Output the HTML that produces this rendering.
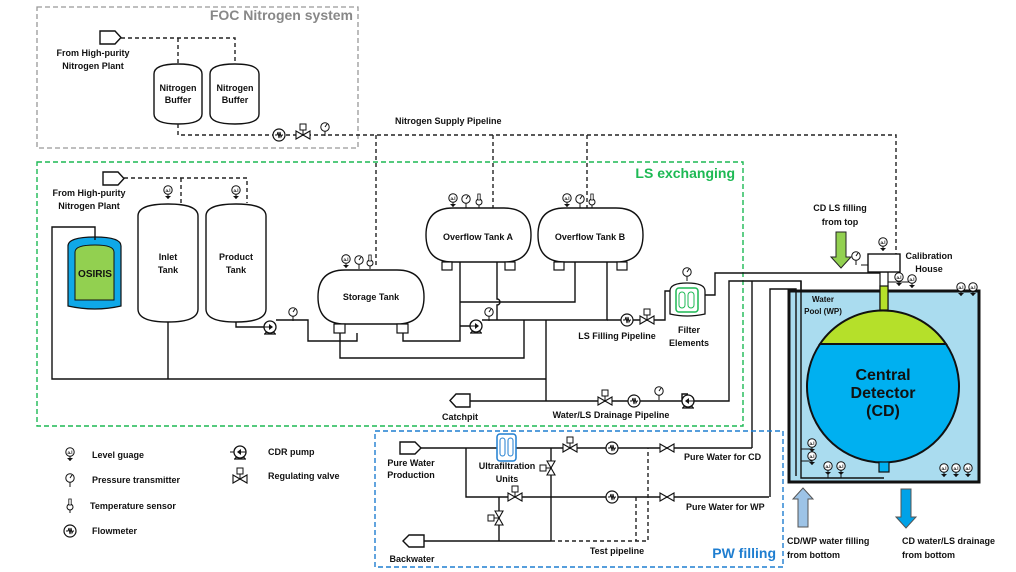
<!DOCTYPE html>
<html><head><meta charset="utf-8"><style>
html,body{margin:0;padding:0;background:#fff;}
svg{display:block;font-family:"Liberation Sans",sans-serif;}
.t{font-size:9px;font-weight:bold;fill:#111;}
.ln{stroke:#111;stroke-width:1.4;fill:none;}
.dl{stroke:#222;stroke-width:1.4;fill:none;stroke-dasharray:4,3;}
</style></head><body>
<svg width="1016" height="572" viewBox="0 0 1016 572" xmlns="http://www.w3.org/2000/svg">
<defs>
<g id="lg"><line x1="0" y1="4" x2="0" y2="9" stroke="#111" stroke-width="1"/><path d="M-3,6 L3,6 L0,9Z" fill="#111"/><circle cx="0" cy="0" r="4.2" fill="#fff" stroke="#111" stroke-width="1"/><text x="0" y="1.8" font-size="4.5" text-anchor="middle" font-weight="bold">a.l</text></g>
<g id="pg"><line x1="0" y1="4" x2="0" y2="9" stroke="#111" stroke-width="1"/><circle cx="0" cy="0" r="4.2" fill="#fff" stroke="#111" stroke-width="1"/><line x1="0" y1="0" x2="2" y2="-3" stroke="#111" stroke-width="1"/></g>
<g id="ts"><line x1="0" y1="4" x2="0" y2="8" stroke="#111" stroke-width="1"/><circle cx="0" cy="2" r="3" fill="#fff" stroke="#111" stroke-width="1"/><rect x="-1.2" y="-6" width="2.4" height="6" fill="#fff" stroke="#111" stroke-width="0.8"/></g>
<g id="fm"><circle cx="0" cy="0" r="6" fill="#fff" stroke="#111" stroke-width="1.2"/><path d="M-4,0 L-2,0 L-1,-3 L0,3 L1,-3 L2,2 L3,0 L4,0" stroke="#111" stroke-width="1" fill="none"/></g>
<g id="rv"><path d="M-7,-4 L7,4 L7,-4 L-7,4Z" fill="#fff" stroke="#111" stroke-width="1.1"/><line x1="0" y1="0" x2="0" y2="-5" stroke="#111"/><rect x="-3" y="-11" width="6" height="6" fill="#fff" stroke="#111" stroke-width="1"/></g>
<g id="gv"><path d="M-7,-4 L7,4 L7,-4 L-7,4Z" fill="#fff" stroke="#111" stroke-width="1.1"/></g>
<g id="vv"><path d="M-4,-7 L4,7 L-4,7 L4,-7Z" fill="#fff" stroke="#111" stroke-width="1.1"/><line x1="0" y1="0" x2="-5" y2="0" stroke="#111"/><rect x="-11" y="-3" width="6" height="6" fill="#fff" stroke="#111" stroke-width="1"/></g>
<g id="pump"><path d="M-5,7 L-3,4 M5,7 L3,4 M-6,7 L6,7" stroke="#111" stroke-width="1.2" fill="none"/><circle cx="0" cy="0" r="6" fill="#fff" stroke="#111" stroke-width="1.3"/><path d="M-1,-3 L3,0 L-1,3Z" fill="#111"/><line x1="-6" y1="0" x2="-1" y2="0" stroke="#111"/></g>
<g id="pumpL"><path d="M-5,7 L-3,4 M5,7 L3,4 M-6,7 L6,7" stroke="#111" stroke-width="1.2" fill="none"/><circle cx="0" cy="0" r="6" fill="#fff" stroke="#111" stroke-width="1.3"/><path d="M1,-3 L-3,0 L1,3Z" fill="#111"/><line x1="6" y1="0" x2="1" y2="0" stroke="#111"/></g>
</defs>

<!-- FOC box -->
<rect x="37" y="7" width="321" height="141" fill="none" stroke="#999" stroke-width="1.3" stroke-dasharray="5,3"/>
<text x="353" y="20" font-size="14" font-weight="bold" fill="#888" text-anchor="end">FOC Nitrogen system</text>
<path d="M100,31 L115,31 L121,37.5 L115,44 L100,44Z" fill="#fff" stroke="#111" stroke-width="1.4"/>
<text class="t" x="93" y="56" text-anchor="middle">From High-purity</text>
<text class="t" x="93" y="69" text-anchor="middle">Nitrogen Plant</text>
<path class="dl" d="M121,38 H235 V64 M178,38 V64"/>
<path d="M154,74 Q154,64 178,64 Q202,64 202,74 V114 Q202,124 178,124 Q154,124 154,114Z" fill="#fff" stroke="#111" stroke-width="1.4"/>
<path d="M210,74 Q210,64 235,64 Q259,64 259,74 V114 Q259,124 235,124 Q210,124 210,114Z" fill="#fff" stroke="#111" stroke-width="1.4"/>
<text class="t" x="178" y="91" text-anchor="middle">Nitrogen</text><text class="t" x="178" y="103" text-anchor="middle">Buffer</text>
<text class="t" x="235" y="91" text-anchor="middle">Nitrogen</text><text class="t" x="235" y="103" text-anchor="middle">Buffer</text>
<path class="dl" d="M178,124 V135 H896 V255 M376,135 V268 M493,135 V208 M587,135 V208"/>
<use href="#fm" x="279" y="135"/><use href="#rv" x="303" y="135"/><use href="#pg" x="325" y="127"/>
<text class="t" x="395" y="124">Nitrogen Supply Pipeline</text>

<!-- LS box -->
<rect x="37" y="162" width="706" height="264" fill="none" stroke="#1db954" stroke-width="1.4" stroke-dasharray="5,3"/>
<text x="735" y="178" font-size="14" font-weight="bold" fill="#1db954" text-anchor="end">LS exchanging</text>
<path d="M103,172 L118,172 L124,178.5 L118,185 L103,185Z" fill="#fff" stroke="#111" stroke-width="1.4"/>
<text class="t" x="89" y="196" text-anchor="middle">From High-purity</text>
<text class="t" x="89" y="209" text-anchor="middle">Nitrogen Plant</text>
<path class="dl" d="M124,178 H247 V203 M181,178 V203"/>
<use href="#lg" x="168" y="190"/><use href="#lg" x="236" y="190"/>
<path d="M138,216 Q138,204 168,204 Q198,204 198,216 V309 Q198,322 168,322 Q138,322 138,309Z" fill="#fff" stroke="#111" stroke-width="1.4"/>
<path d="M206,216 Q206,204 236,204 Q266,204 266,216 V309 Q266,322 236,322 Q206,322 206,309Z" fill="#fff" stroke="#111" stroke-width="1.4"/>
<text class="t" x="168" y="260" text-anchor="middle">Inlet</text><text class="t" x="168" y="273" text-anchor="middle">Tank</text>
<text class="t" x="236" y="260" text-anchor="middle">Product</text><text class="t" x="236" y="273" text-anchor="middle">Tank</text>
<!-- OSIRIS -->
<path d="M68,246 Q68,237 95,237 Q121,237 121,246 V306 Q95,312 68,306Z" fill="#0fa8e8" stroke="#111" stroke-width="1.2"/>
<path d="M75,252 Q75,245 95,245 Q114,245 114,252 V300 H75Z" fill="#92d050" stroke="#111" stroke-width="1"/>
<text x="95" y="277" font-size="10" font-weight="bold" text-anchor="middle" fill="#111">OSIRIS</text>
<path class="ln" d="M95,240 V227 H52 V379 H546 M168,322 V379"/>
<!-- storage -->
<path d="M345,270 H397 Q424,270 424,297 Q424,324 397,324 H345 Q318,324 318,297 Q318,270 345,270Z" fill="#fff" stroke="#111" stroke-width="1.4"/>
<text class="t" x="371" y="300" text-anchor="middle">Storage Tank</text>
<rect x="334" y="324" width="11" height="9" fill="#fff" stroke="#111" stroke-width="1.2"/>
<rect x="397" y="324" width="11" height="9" fill="#fff" stroke="#111" stroke-width="1.2"/>
<use href="#lg" x="346" y="259"/><use href="#pg" x="359" y="260"/><use href="#ts" x="370" y="261"/>
<!-- overflow A,B -->
<path d="M453,208 H504 Q531,208 531,235 Q531,262 504,262 H453 Q426,262 426,235 Q426,208 453,208Z" fill="#fff" stroke="#111" stroke-width="1.4"/>
<path d="M565,208 H616 Q643,208 643,235 Q643,262 616,262 H565 Q538,262 538,235 Q538,208 565,208Z" fill="#fff" stroke="#111" stroke-width="1.4"/>
<text class="t" x="478" y="240" text-anchor="middle">Overflow Tank A</text>
<text class="t" x="590" y="240" text-anchor="middle">Overflow Tank B</text>
<rect x="442" y="262" width="10" height="8" fill="#fff" stroke="#111" stroke-width="1.2"/>
<rect x="505" y="262" width="10" height="8" fill="#fff" stroke="#111" stroke-width="1.2"/>
<rect x="554" y="262" width="10" height="8" fill="#fff" stroke="#111" stroke-width="1.2"/>
<rect x="617" y="262" width="10" height="8" fill="#fff" stroke="#111" stroke-width="1.2"/>
<use href="#lg" x="453" y="198"/><use href="#pg" x="466" y="199"/><use href="#ts" x="479" y="200"/>
<use href="#lg" x="567" y="198"/><use href="#pg" x="580" y="199"/><use href="#ts" x="592" y="200"/>
<!-- LS pipes -->
<path class="ln" d="M236,322 V327 H264 M276,320 H308 V341 H357 V333 M340,333 V358 H524 V320 M403,333 V341 H460 V262 M460,302 H575 V262 M460,326 H470 M482,320 H607 V262 M497,262 V299 A3,3 0 0 1 497,305 V320 M546,320 V401"/>
<use href="#pump" x="270" y="327"/><use href="#pg" x="293" y="312"/>
<use href="#pump" x="476" y="326"/><use href="#pg" x="489" y="312"/>
<path class="ln" d="M607,320 H665 V291 H670"/>
<use href="#fm" x="627" y="320"/><use href="#rv" x="647" y="320"/>
<text class="t" x="617" y="339" text-anchor="middle">LS Filling Pipeline</text>
<path d="M670,291 Q670,283 687,283 Q705,283 705,291 V314 Q687,318 670,314Z" fill="#fff" stroke="#111" stroke-width="1.3"/>
<rect x="676" y="288" width="22" height="24" rx="3" fill="#fff" stroke="#1db954" stroke-width="1.5"/>
<rect x="679" y="292" width="6" height="16" rx="3" fill="none" stroke="#1db954" stroke-width="1"/>
<rect x="688" y="292" width="6" height="16" rx="3" fill="none" stroke="#1db954" stroke-width="1"/>
<use href="#pg" x="687" y="272"/>
<text class="t" x="689" y="333" text-anchor="middle">Filter</text><text class="t" x="689" y="346" text-anchor="middle">Elements</text>
<path class="ln" d="M705,295 H715 V273 H880"/>
<!-- drainage -->
<path d="M470,394 L456,394 L450,400.5 L456,407 L470,407Z" fill="#fff" stroke="#111" stroke-width="1.4"/>
<text class="t" x="460" y="420" text-anchor="middle">Catchpit</text>
<path class="ln" d="M470,401 H682 M694,401 H729 V281 H801 V478 H884 M752,281 V448"/>
<path class="ln" d="M682,401 V394 H688"/>
<use href="#rv" x="605" y="401"/><use href="#fm" x="634" y="401"/><use href="#pg" x="659" y="391"/>
<use href="#pumpL" x="688" y="401"/>
<text class="t" x="611" y="418" text-anchor="middle">Water/LS Drainage Pipeline</text>

<!-- Pool -->
<rect x="789" y="291" width="190" height="191" fill="#aadcef" stroke="#111" stroke-width="3"/>
<path class="ln" d="M770,497 V289 H796 V476"/>
<path class="ln" d="M801,281 V478 H884"/>
<path d="M812,449 H801 M812,461 H801" stroke="#111" stroke-width="1"/>
<path d="M828,473 V478 M841,473 V478" stroke="#111" stroke-width="1"/>
<!-- CD -->
<path d="M820,344 A76,76 0 1 0 946,344Z" fill="#00b0f0" stroke="#111" stroke-width="2"/>
<path d="M820,344 A76,76 0 0 1 946,344Z" fill="#b5e02a" stroke="#111" stroke-width="2"/>
<rect x="880" y="272" width="8" height="38" fill="#fff" stroke="#111" stroke-width="1.2"/>
<rect x="880" y="286" width="8" height="24" fill="#b5e02a" stroke="#111" stroke-width="1.2"/>
<rect x="879" y="462" width="10" height="10" fill="#00b0f0" stroke="#111" stroke-width="1.2"/>
<text x="883" y="380" font-size="16" font-weight="bold" text-anchor="middle" fill="#111">Central</text>
<text x="883" y="398" font-size="16" font-weight="bold" text-anchor="middle" fill="#111">Detector</text>
<text x="883" y="416" font-size="16" font-weight="bold" text-anchor="middle" fill="#111">(CD)</text>
<text x="823" y="302" font-size="8" font-weight="bold" text-anchor="middle" fill="#111">Water</text>
<text x="823" y="314" font-size="8" font-weight="bold" text-anchor="middle" fill="#111">Pool (WP)</text>
<use href="#lg" x="961" y="287"/><use href="#lg" x="973" y="287"/>
<use href="#lg" x="944" y="468"/><use href="#lg" x="956" y="468"/><use href="#lg" x="968" y="468"/>
<use href="#lg" x="828" y="466"/><use href="#lg" x="841" y="466"/>
<use href="#lg" x="812" y="443"/><use href="#lg" x="812" y="456"/>
<!-- calibration house -->
<rect x="868" y="254" width="32" height="18" fill="#fff" stroke="#111" stroke-width="1.4"/>
<use href="#lg" x="883" y="242"/>
<path class="ln" d="M868,265 H861" style="stroke-width:1"/><use href="#pg" x="856" y="256"/>
<path d="M888,282 H912" stroke="#111" stroke-width="1"/>
<use href="#lg" x="899" y="277"/><use href="#lg" x="912" y="279"/>
<text class="t" x="929" y="259" text-anchor="middle">Calibration</text>
<text class="t" x="929" y="272" text-anchor="middle">House</text>
<path d="M836,232 H846 V257 H851 L841,268 L831,257 H836Z" fill="#92d050" stroke="#222" stroke-width="1"/>
<text class="t" x="840" y="211" text-anchor="middle">CD LS filling</text>
<text class="t" x="840" y="225" text-anchor="middle">from top</text>
<!-- bottom arrows -->
<path d="M798,527 H808 V499 H813 L803,488 L793,499 H798Z" fill="#9dc3e6" stroke="#555" stroke-width="1"/>
<path d="M901,489 H911 V517 H916 L906,528 L896,517 H901Z" fill="#00a2e8" stroke="#555" stroke-width="1"/>
<text class="t" x="787" y="544">CD/WP water filling</text>
<text class="t" x="787" y="558">from bottom</text>
<text class="t" x="902" y="544">CD water/LS drainage</text>
<text class="t" x="902" y="558">from bottom</text>

<!-- PW box -->
<rect x="375" y="431" width="408" height="136" fill="none" stroke="#1f7ed0" stroke-width="1.4" stroke-dasharray="5,3"/>
<text x="776" y="558" font-size="14" font-weight="bold" fill="#1f7ed0" text-anchor="end">PW filling</text>
<path d="M400,442 L415,442 L421,448 L415,454 L400,454Z" fill="#fff" stroke="#111" stroke-width="1.4"/>
<text class="t" x="411" y="466" text-anchor="middle">Pure Water</text>
<text class="t" x="411" y="478" text-anchor="middle">Production</text>
<path d="M424,535 L409,535 L403,541 L409,547 L424,547Z" fill="#fff" stroke="#111" stroke-width="1.4"/>
<text class="t" x="412" y="562" text-anchor="middle">Backwater</text>
<path class="ln" d="M421,448 H752 M466,448 V497 H769 M551,448 V541 M499,497 V541 M424,541 H551"/>
<path class="dl" d="M551,541 H648 V448 M636,497 V541"/>
<rect x="497" y="434" width="19" height="27" rx="3" fill="#fff" stroke="#1f7ed0" stroke-width="1.5"/>
<rect x="500" y="438" width="5" height="18" rx="2.5" fill="none" stroke="#1f7ed0" stroke-width="1"/>
<rect x="508" y="438" width="5" height="18" rx="2.5" fill="none" stroke="#1f7ed0" stroke-width="1"/>
<text class="t" x="507" y="469" text-anchor="middle">Ultrafiltration</text>
<text class="t" x="507" y="482" text-anchor="middle">Units</text>
<use href="#rv" x="570" y="448"/><use href="#fm" x="612" y="448"/><use href="#gv" x="667" y="448"/>
<use href="#rv" x="515" y="497"/><use href="#fm" x="612" y="497"/><use href="#gv" x="667" y="497"/>
<use href="#vv" x="551" y="468"/><use href="#vv" x="499" y="518"/>
<text class="t" x="684" y="460">Pure Water for CD</text>
<text class="t" x="686" y="510">Pure Water for WP</text>
<text class="t" x="617" y="554" text-anchor="middle">Test pipeline</text>

<!-- Legend -->
<use href="#lg" x="70" y="452"/><text class="t" x="92" y="458">Level guage</text>
<use href="#pg" x="70" y="478"/><text class="t" x="92" y="483">Pressure transmitter</text>
<use href="#ts" x="70" y="505"/><text class="t" x="90" y="509">Temperature sensor</text>
<use href="#fm" x="70" y="531"/><text class="t" x="92" y="534">Flowmeter</text>
<use href="#pumpL" x="240" y="452"/><path d="M230,452 H234" stroke="#111"/><text class="t" x="268" y="455">CDR pump</text>
<use href="#rv" x="240" y="479"/><text class="t" x="268" y="479">Regulating valve</text>
</svg>
</body></html>
